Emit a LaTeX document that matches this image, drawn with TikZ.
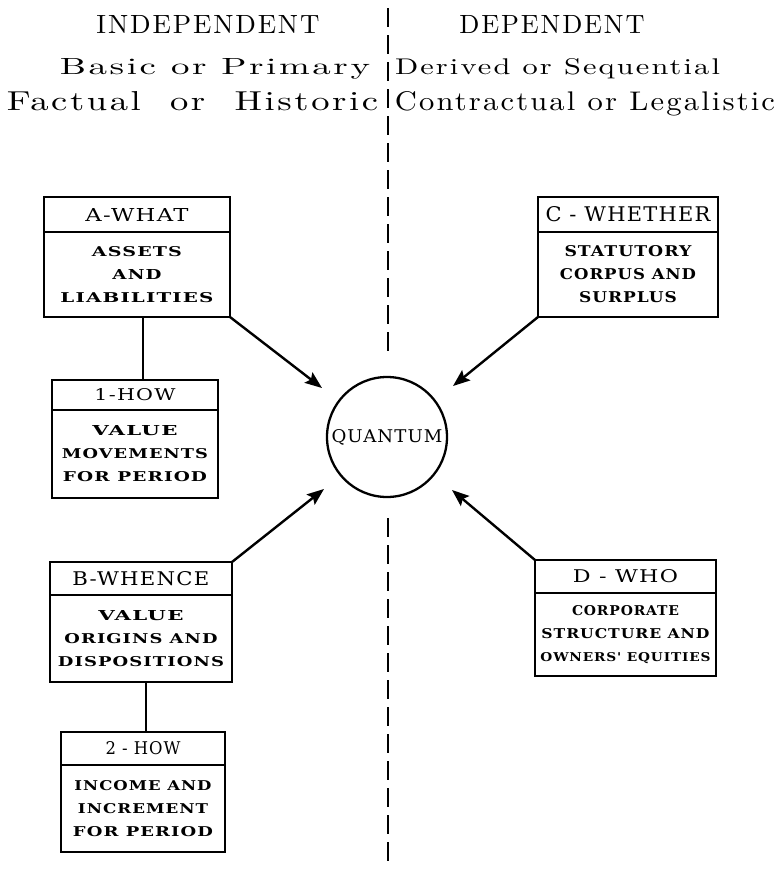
\documentclass[tikz,border=0pt]{standalone}
\usepackage{fontspec}
\usepackage{graphicx}
\usetikzlibrary{arrows.meta}
\newfontfamily\bxf[LetterSpace=6]{DejaVu Serif}
\newfontfamily\bxb[LetterSpace=6]{DejaVu Serif Bold}
\newfontfamily\hdf[LetterSpace=7]{lmroman10-regular.otf}
\newcommand\fitt[3]{\resizebox{#1pt}{#2pt}{#3}}
\tikzset{
  hbox/.style={draw, line width=2.6pt, rectangle, inner sep=0pt, outer sep=0pt, font=\bxf},
  bbox/.style={hbox, align=center, font=\bxb\fontsize{10}{23}\selectfont},
  link/.style={line width=1.8pt},
  arr/.style={line width=2.4pt, -{Stealth[length=17pt,width=13pt,inset=3pt]}},
  divider/.style={line width=2.8pt, dash pattern=on 19pt off 8pt},
  hdtext/.style={inner sep=0pt, anchor=base, font=\hdf},
}
\begin{document}
\begin{tikzpicture}[x=1pt, y=-1pt]
\useasboundingbox (0,0) rectangle (778,871);
% headings
\node[hdtext] (ind) at (208,33) {\fitt{223}{18}{INDEPENDENT}};
\node[hdtext] (dep) at (552,33) {\fitt{185}{18}{DEPENDENT}};
\node[hdtext] (bas) at (215,74) {\fitt{310}{16}{Basic or Primary}};
\node[hdtext] (der) at (557.5,74) {\fitt{325}{16}{Derived or Sequential}};
\node[hdtext] (fac) at (192.5,110) {\fitt{371}{19}{Factual\hspace{0.4em} or\hspace{0.4em} Historic}};
\node[hdtext] (con) at (585,110) {\fitt{380}{19}{Contractual or Legalistic}};
% divider
\coordinate (d1) at (388,8);
\coordinate (d2) at (388,358);
\coordinate (d3) at (388,518);
\coordinate (d4) at (388,868);
\draw[divider] (d1) -- (d2);
\draw[divider] (d3) -- (d4);
% box A
\node[hbox, minimum width=186pt, minimum height=35pt] (Ah) at (137,214.5) {\fitt{103}{13}{A-WHAT}};
\node[bbox, minimum width=186pt, minimum height=85pt] (Ab) at (137,274.5)
  {\fitt{90}{10}{ASSETS}\\\fitt{49}{10}{AND}\\\fitt{153}{10}{LIABILITIES}};
% box 1
\node[hbox, minimum width=166pt, minimum height=30pt] (Oh) at (135,395) {\fitt{81}{12}{1-HOW}};
\node[bbox, minimum width=166pt, minimum height=88pt] (Ob) at (135,454)
  {\fitt{85}{10}{VALUE}\\\fitt{146}{10}{MOVEMENTS}\\\fitt{144}{10}{FOR PERIOD}};
% box B
\node[hbox, minimum width=182pt, minimum height=33pt] (Bh) at (141,578.5) {\fitt{137}{14}{B-WHENCE}};
\node[bbox, minimum width=182pt, minimum height=87pt] (Bb) at (141,638.5)
  {\fitt{85}{10}{VALUE}\\\fitt{153}{10}{ORIGINS AND}\\\fitt{166}{10}{DISPOSITIONS}};
% box 2
\node[hbox, minimum width=164pt, minimum height=33pt] (Th) at (143,748.5) {\fitt{75}{13}{2 - HOW}};
\node[bbox, minimum width=164pt, minimum height=87pt] (Tb) at (143,808.5)
  {\fitt{137}{10}{INCOME AND}\\\fitt{130}{10}{INCREMENT}\\\fitt{140}{10}{FOR PERIOD}};
% box C
\node[hbox, minimum width=180pt, minimum height=35pt] (Ch) at (628,214.5) {\fitt{165}{15}{C - WHETHER}};
\node[bbox, minimum width=180pt, minimum height=85pt] (Cb) at (628,274.5)
  {\fitt{127}{11}{STATUTORY}\\\fitt{136}{11}{CORPUS AND}\\\fitt{98}{11}{SURPLUS}};
% box D
\node[hbox, minimum width=181pt, minimum height=33pt] (Dh) at (625.5,576.5) {\fitt{105}{13}{D - WHO}};
\node[bbox, minimum width=181pt, minimum height=83pt] (Db) at (625.5,634.5)
  {\fitt{107}{10}{CORPORATE}\\\fitt{168}{10}{STRUCTURE AND}\\\fitt{170}{9}{OWNERS' EQUITIES}};
% centre
\node[draw, circle, line width=2.3pt, minimum size=120pt, inner sep=0pt, font=\bxf] (Q) at (387,437) {\fitt{111}{13}{QUANTUM}};
% links
\draw[link] ([xshift=6pt]Ab.south) -- ([xshift=6pt]Ab.south |- Oh.north);
\draw[link] ([xshift=5pt]Bb.south) -- ([xshift=5pt]Bb.south |- Th.north);
% arrows
\coordinate (tA) at (322,388);
\coordinate (tC) at (453,386);
\coordinate (tB) at (324,489);
\coordinate (tD) at (452,490);
\draw[arr] (Ab.south east) -- (tA);
\draw[arr] (Cb.south west) -- (tC);
\draw[arr] (Bh.north east) -- (tB);
\draw[arr] (Dh.north west) -- (tD);
\end{tikzpicture}
\end{document}
